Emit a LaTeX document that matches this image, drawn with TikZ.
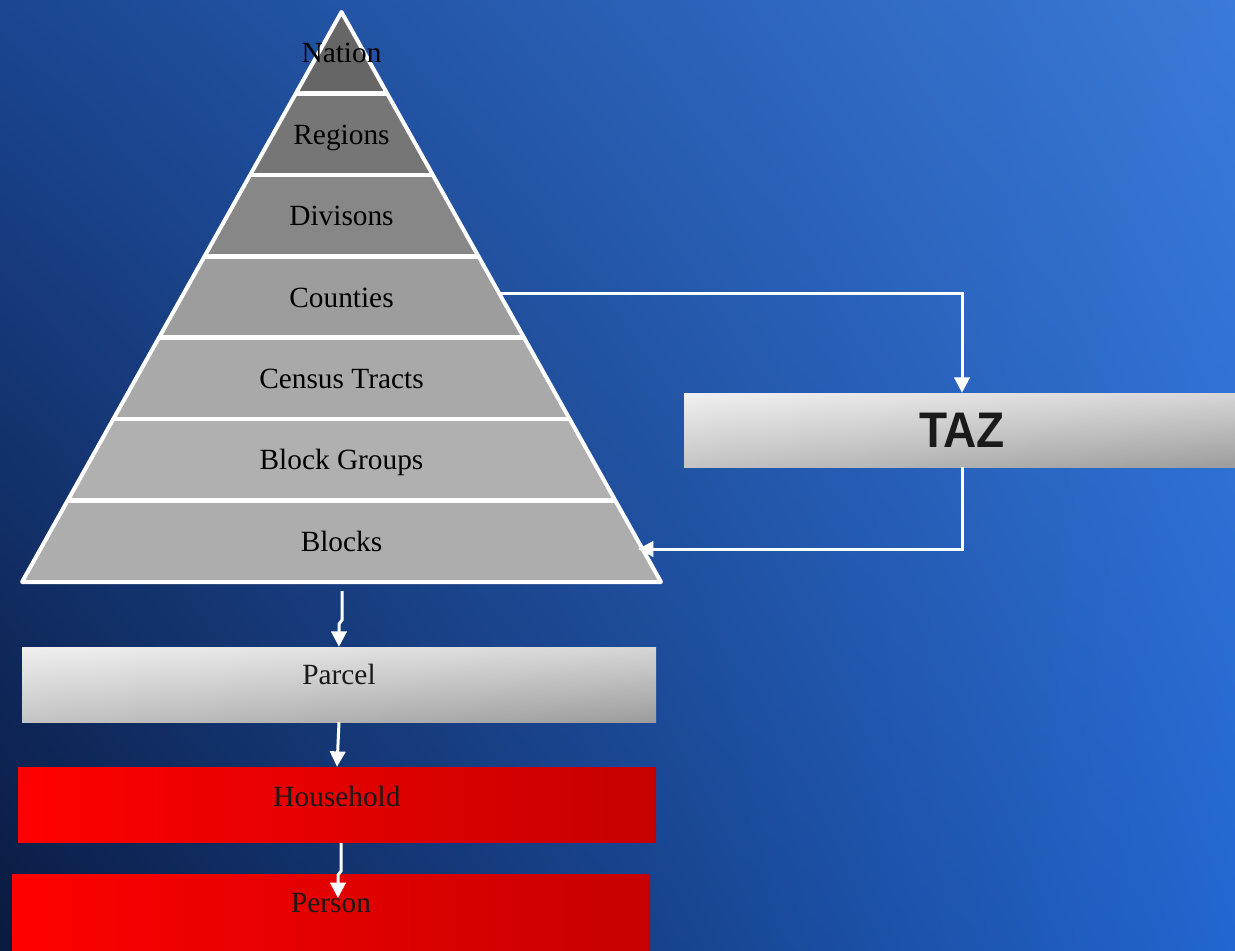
\documentclass[tikz,border=0pt]{standalone}
\usepackage{fontspec}
\setmainfont{Liberation Serif}
\newfontfamily\headfont{Liberation Sans}
\usetikzlibrary{shadings,arrows.meta}

% background corners
\definecolor{bgUL}{HTML}{1A4692}
\definecolor{bgUR}{HTML}{3A7AD8}
\definecolor{bgLL}{HTML}{0A1A40}
\definecolor{bgLR}{HTML}{2266D0}
% pyramid layers, top to bottom
\definecolor{layA}{HTML}{666666}
\definecolor{layB}{HTML}{767676}
\definecolor{layC}{HTML}{878787}
\definecolor{layD}{HTML}{9D9D9D}
\definecolor{layE}{HTML}{A9A9A9}
\definecolor{layF}{HTML}{B0B0B0}
\definecolor{layG}{HTML}{ADADAD}
% boxes
\definecolor{boxLight}{HTML}{F0F0F0}
\definecolor{boxMidA}{HTML}{D6D6D6}
\definecolor{boxMidB}{HTML}{C4C4C4}
\definecolor{boxDark}{HTML}{9C9C9C}
\definecolor{redL}{HTML}{FF0000}
\definecolor{redR}{HTML}{C60000}
\definecolor{ink}{HTML}{1A1A1A}

\begin{document}
\begin{tikzpicture}[x=0.75pt,y=-0.75pt,
  conn/.style={draw=white, line width=2.25pt, line join=miter,
    -{Triangle[width=11.5pt,length=11.5pt]}},
  layerlabel/.style={inner sep=0pt, text=black, text height=15pt, text depth=0pt,
    font=\fontsize{22}{26}\selectfont},
  graybox/.style={shade, upper left=boxLight, upper right=boxMidA,
    lower left=boxMidB, lower right=boxDark, inner sep=0pt},
  redbox/.style={shade, left color=redL, right color=redR, inner sep=0pt},
  boxlabel/.style={text=ink, text height=10pt, text depth=10pt,
    font=\fontsize{22}{26}\selectfont},
]
% background
\shade[upper left=bgUL, upper right=bgUR, lower left=bgLL, lower right=bgLR]
  (0,0) rectangle (1235,950);
\useasboundingbox (0,0) rectangle (1235,950);

% pyramid layers
\foreach \i/\col in {0/layA, 1/layB, 2/layC, 3/layD, 4/layE, 5/layF, 6/layG}{
  \pgfmathsetmacro\ya{12+81.4286*\i}
  \pgfmathsetmacro\yb{12+81.4286*(\i+1)}
  \pgfmathsetmacro\ha{(\ya-12)*0.560526}
  \pgfmathsetmacro\hb{(\yb-12)*0.560526}
  \fill[\col] ({341.5-\ha},\ya) -- ({341.5+\ha},\ya) -- ({341.5+\hb},\yb) -- ({341.5-\hb},\yb) -- cycle;
}
% separators between layers
\foreach \i in {1,...,6}{
  \pgfmathsetmacro\ya{12+81.4286*\i}
  \pgfmathsetmacro\ha{(\ya-12)*0.560526}
  \draw[white, line width=3.5pt] ({341.5-\ha},\ya) -- ({341.5+\ha},\ya);
}
% outline
\draw[white, line width=3pt, line join=round] (341.5,12) -- (661,582) -- (22,582) -- cycle;
% layer names, set over the outline
\foreach \i/\nm/\lab in {0/nation/Nation, 1/regions/Regions,
    2/divisions/Divisons, 3/counties/Counties,
    4/tracts/Census Tracts, 5/groups/Block Groups, 6/blocks/Blocks}{
  \node[layerlabel] (\nm) at (341.5,{12+81.4286*(\i+0.5)}) {\lab};
}

% boxes
\node[graybox, minimum width=417pt, minimum height=55.5pt] (taz) at (962,430)
  {\scalebox{0.92}[1]{\headfont\bfseries\fontsize{37.5}{40}\selectfont\color{ink}TAZ}};
\node[graybox, minimum width=475.5pt, minimum height=56.25pt] (parcel) at (339,684.5) {};
\node[boxlabel] (parcelText) at (parcel.center) {Parcel};
\node[redbox, minimum width=478.5pt, minimum height=56.25pt] (household) at (337,804.5) {};
\node[boxlabel] (householdText) at ([yshift=-1.5pt]household.center) {Household};
\node[redbox, minimum width=478.5pt, minimum height=58.5pt] (person) at (331,913) {};
\node[boxlabel] (personText) at (331,912) {Person};

% connector end points
\coordinate (ctyR) at (501,293);
\coordinate (blkR) at (638,549);
\coordinate (pyrBase) at (342,591);
\coordinate (hhOut) at (341,843);
\coordinate (personIn) at (338,898);

% connectors
\draw[conn] (ctyR) -| (taz.north);
\draw[conn] (taz.south) |- (blkR);
\draw[conn] (pyrBase) -- (342,620) -- (339,624) -- (parcel.north);
\draw[conn] (parcel.south) -- (household.north);
\draw[conn] (hhOut) -- (341,871) -- (338,875) -- (personIn);
\end{tikzpicture}
\end{document}
